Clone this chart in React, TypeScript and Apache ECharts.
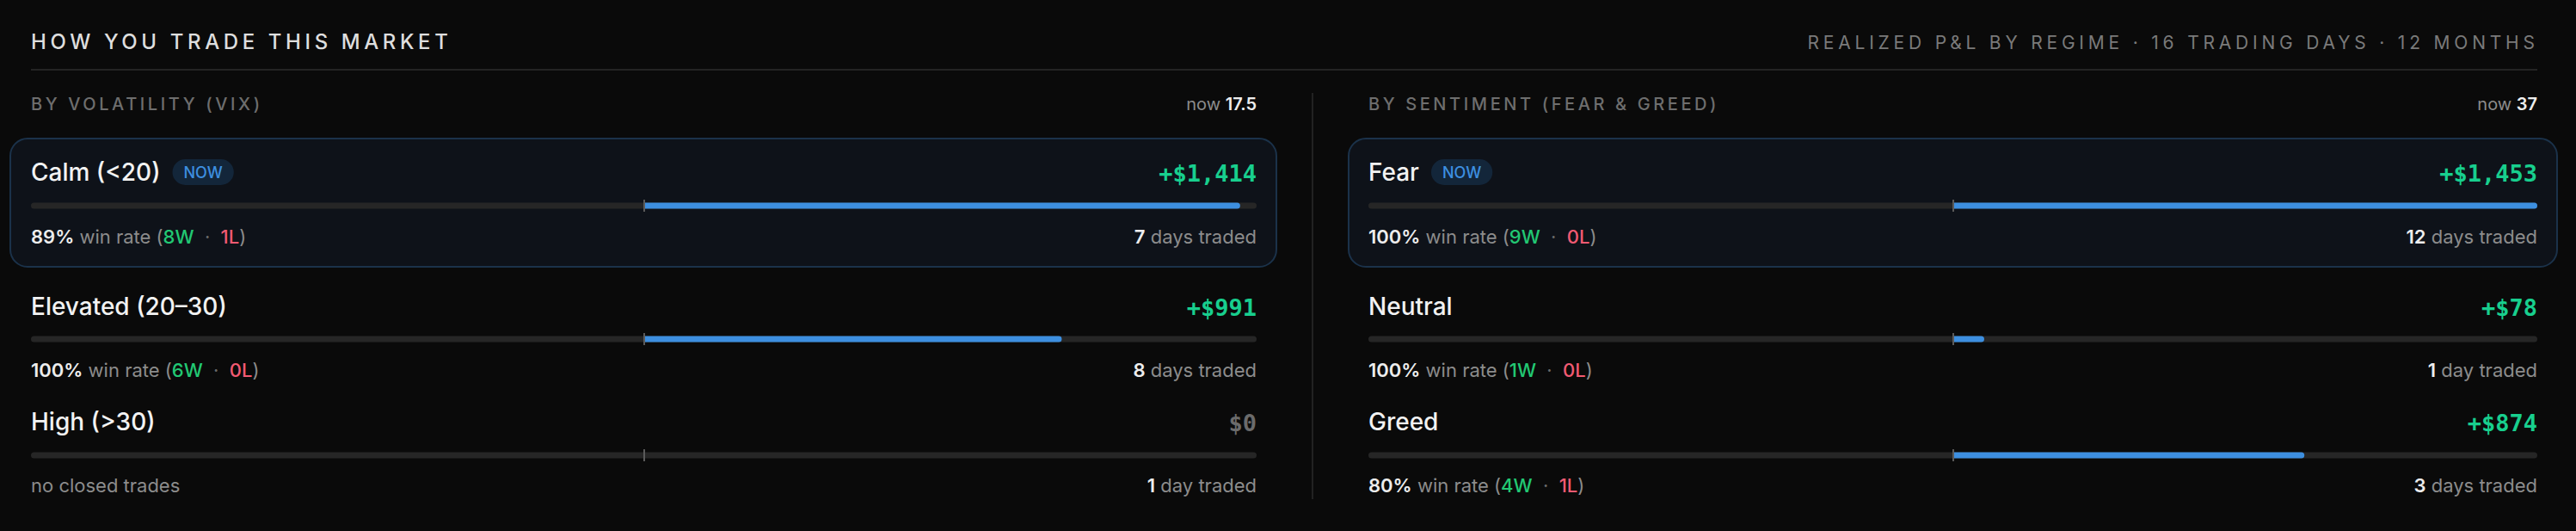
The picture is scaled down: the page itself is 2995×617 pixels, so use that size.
import React, { useEffect, useRef } from "react";
import * as echarts from "echarts";

// ---------- data ----------
const titleText = "HOW YOU TRADE THIS MARKET";
const subtitleParts = ["REALIZED P&L BY REGIME", "16 TRADING DAYS", "12 MONTHS"];

const volLabel = "BY VOLATILITY (VIX)";
const volNow = "17.5";
const volRegimes = ["Calm (<20)", "Elevated (20–30)", "High (>30)"];
const volPnl = [1414, 991, 0];
const volWinRate = [89, 100, null];
const volWins = [8, 6, 0];
const volLosses = [1, 0, 0];
const volDays = [7, 8, 1];
const volCurrent = 0;

const sentLabel = "BY SENTIMENT (FEAR & GREED)";
const sentNow = "37";
const sentRegimes = ["Fear", "Neutral", "Greed"];
const sentPnl = [1453, 78, 874];
const sentWinRate = [100, 100, 80];
const sentWins = [9, 1, 4];
const sentLosses = [0, 0, 1];
const sentDays = [12, 1, 3];
const sentCurrent = 0;

// ---------- style / layout ----------
const W = 2995;
const H = 617;
const SANS = "Inter, 'Noto Sans', sans-serif";
const MONO = "'DejaVu Sans Mono', 'Liberation Mono', monospace";
const BG = "#0a0a0a";
const TRACK = "#262626";
const BLUE = "#3d8fe0";
const GREEN_PNL = "#18cf8e";
const GREEN = "#22c873";
const RED = "#f25a72";
const WHITE = "#ededed";
const GRAY = "#8c8c8c";

const cols = [
  { left: 36, right: 1461, cardLeft: 12, cardRight: 1484 },
  { left: 1591, right: 2950, cardLeft: 1568, cardRight: 2973 },
];
const nameY = [200, 356, 490];
const trackY = [239, 394, 529];
const statsY = [275, 430, 564];
const cardTop = 161;
const cardBottom = 310;

const TITLE_SP = 4.6;
const SUB_SP = 4.8;
const SEC_SP = 3.6;

function fmtMoney(v: number) {
  if (v === 0) return "$0";
  const s = "$" + Math.abs(v).toLocaleString("en-US");
  return (v > 0 ? "+" : "−") + s;
}

export default function App() {
  const ref = useRef<HTMLDivElement>(null);

  useEffect(() => {
    document.body.style.margin = "0";
    document.body.style.background = BG;
    const el = ref.current!;
    const chart = echarts.init(el, null, { renderer: "svg", width: W, height: H });

    const panels = [
      {
        label: volLabel, now: volNow, regimes: volRegimes, pnl: volPnl, wr: volWinRate,
        wins: volWins, losses: volLosses, days: volDays, current: volCurrent,
      },
      {
        label: sentLabel, now: sentNow, regimes: sentRegimes, pnl: sentPnl, wr: sentWinRate,
        wins: sentWins, losses: sentLosses, days: sentDays, current: sentCurrent,
      },
    ];
    const maxAbs = Math.max(...volPnl.map(Math.abs), ...sentPnl.map(Math.abs));

    const grids: any[] = [];
    const xAxes: any[] = [];
    const yAxes: any[] = [];
    const series: any[] = [];
    const graphics: any[] = [];

    // header
    graphics.push({
      type: "text", z: 10, x: 36, y: 48.5,
      style: { text: titleText, fill: "#dedede", font: `500 24px ${SANS}`, align: "left", verticalAlign: "middle" },
    });
    graphics.push({
      type: "text", z: 10, x: 2947 + SUB_SP, y: 49.5,
      style: { text: subtitleParts.join(" · "), fill: "#7a7a7a", font: `400 21px ${SANS}`, align: "right", verticalAlign: "middle" },
    });
    graphics.push({
      type: "line", z: 1, shape: { x1: 36, y1: 81, x2: 2950, y2: 81 },
      style: { stroke: "#242424", lineWidth: 2 },
    });
    graphics.push({
      type: "line", z: 1, shape: { x1: 1526, y1: 108, x2: 1526, y2: 580 },
      style: { stroke: "#222222", lineWidth: 2 },
    });

    panels.forEach((p, ci) => {
      const c = cols[ci];
      graphics.push({
        type: "text", z: 10, x: c.left, y: 121,
        style: { text: p.label, fill: "#6e6e6e", font: `500 20px ${SANS}`, align: "left", verticalAlign: "middle" },
      });
      graphics.push({
        type: "text", z: 10, x: c.right, y: 121,
        style: {
          text: `{g|now }{b|${p.now}}`, align: "right", verticalAlign: "middle",
          rich: {
            g: { fill: GRAY, fontSize: 20, fontFamily: SANS, fontWeight: 400 },
            b: { fill: WHITE, fontSize: 20, fontFamily: SANS, fontWeight: 600 },
          },
        },
      });
      // current-regime card
      graphics.push({
        type: "rect", z: 0,
        shape: { x: c.cardLeft, y: cardTop, width: c.cardRight - c.cardLeft, height: cardBottom - cardTop, r: 20 },
        style: { fill: "#0e1219", stroke: "#1b324a", lineWidth: 2 },
      });

      p.regimes.forEach((name, ri) => {
        const gi = ci * 3 + ri;
        const v = p.pnl[ri];
        const isNow = ri === p.current;
        graphics.push({
          type: "text", z: 10, x: c.left, y: nameY[ri],
          style: {
            text: isNow ? `{n|${name}}{s| }{badge|NOW}` : `{n|${name}}`,
            align: "left", verticalAlign: "middle",
            rich: {
              n: { fill: "#f2f2f2", fontSize: 28, fontFamily: SANS, fontWeight: 500, verticalAlign: "middle", lineHeight: 32 },
              s: { width: 14, fontSize: 18, verticalAlign: "middle" },
              badge: {
                fill: BLUE, fontSize: 18, fontFamily: SANS, fontWeight: 500, lineHeight: 19,
                backgroundColor: "#13263a", borderRadius: 16, padding: [6, 13, 6, 13], verticalAlign: "middle",
              },
            },
          },
        });
        graphics.push({
          type: "text", z: 10, x: c.right, y: nameY[ri] + 1,
          style: {
            text: fmtMoney(v), fill: v === 0 ? "#6b6b6b" : v > 0 ? GREEN_PNL : RED,
            font: `700 27px ${MONO}`, align: "right", verticalAlign: "middle",
          },
        });
        const w = p.wins[ri];
        const l = p.losses[ri];
        const richStats = {
          b: { fill: WHITE, fontSize: 22, fontFamily: SANS, fontWeight: 600 },
          g: { fill: GRAY, fontSize: 22, fontFamily: SANS, fontWeight: 400 },
          w: { fill: GREEN, fontSize: 22, fontFamily: SANS, fontWeight: 500 },
          l: { fill: RED, fontSize: 22, fontFamily: SANS, fontWeight: 500 },
          d: { fill: "#6a6a6a", fontSize: 22, fontFamily: SANS, fontWeight: 400 },
        };
        const statsText = w + l === 0
          ? `{g|no closed trades}`
          : `{b|${p.wr[ri]}%}{g| win rate (}{w|${w}W}{d|  ·  }{l|${l}L}{g|)}`;
        graphics.push({
          type: "text", z: 10, x: c.left, y: statsY[ri],
          style: { text: statsText, align: "left", verticalAlign: "middle", rich: richStats },
        });
        const d = p.days[ri];
        graphics.push({
          type: "text", z: 10, x: c.right, y: statsY[ri],
          style: {
            text: `{b|${d}}{g| ${d === 1 ? "day" : "days"} traded}`,
            align: "right", verticalAlign: "middle", rich: richStats,
          },
        });

        grids.push({ left: c.left, top: trackY[ri] - 7, width: c.right - c.left, height: 14, containLabel: false });
        xAxes.push({ gridIndex: gi, type: "value", min: -maxAbs, max: maxAbs, show: false });
        yAxes.push({ gridIndex: gi, type: "category", data: [name], show: false });
        series.push({
          type: "bar",
          name,
          xAxisIndex: gi,
          yAxisIndex: gi,
          data: [v],
          barWidth: 7,
          silent: true,
          showBackground: true,
          backgroundStyle: { color: TRACK, borderRadius: 4 },
          itemStyle: { color: v >= 0 ? BLUE : RED, borderRadius: v >= 0 ? [0, 4, 4, 0] : [4, 0, 0, 4] },
          markLine: {
            silent: true,
            symbol: ["none", "none"],
            label: { show: false },
            lineStyle: { color: "#5a5a5a", width: 2, type: "solid" },
            data: [{ xAxis: 0 }],
          },
        });
      });
    });

    chart.setOption({
      animation: false,
      backgroundColor: BG,
      grid: grids,
      xAxis: xAxes,
      yAxis: yAxes,
      series,
      graphic: { elements: graphics },
    });

    const spacing: Record<string, number> = {
      [titleText]: TITLE_SP,
      [subtitleParts.join(" · ")]: SUB_SP,
      [volLabel]: SEC_SP,
      [sentLabel]: SEC_SP,
    };
    const applySpacing = () => {
      el.querySelectorAll("text").forEach((t) => {
        const sp = spacing[t.textContent || ""];
        if (sp != null) t.setAttribute("letter-spacing", String(sp));
      });
    };
    applySpacing();
    chart.on("finished", applySpacing);
    const raf = requestAnimationFrame(applySpacing);

    return () => {
      cancelAnimationFrame(raf);
      chart.dispose();
    };
  }, []);

  return <div ref={ref} style={{ width: W, height: H, background: BG }} />;
}
